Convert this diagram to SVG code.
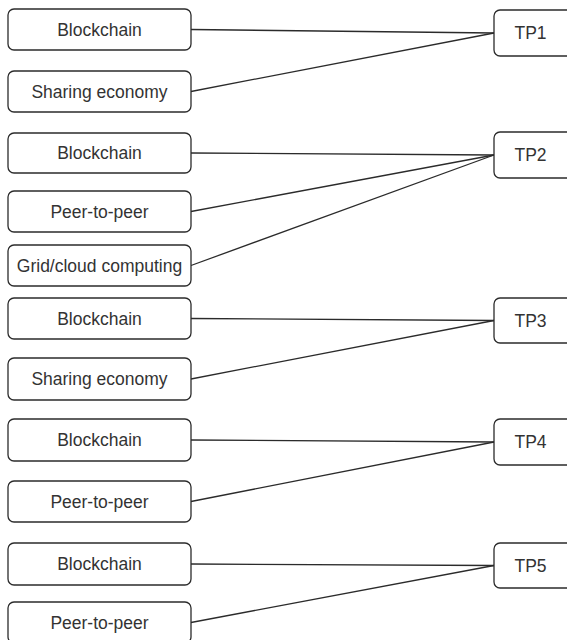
<svg xmlns="http://www.w3.org/2000/svg" width="567" height="640" viewBox="0 0 567 640">
  <style>
    .box { fill: #ffffff; stroke: #2b2b2b; stroke-width: 1.3; }
    .lbl { font-family: "Liberation Sans", Arial, sans-serif; font-size: 17.5px; fill: #333333; text-anchor: middle; }
    .edge { stroke: #2b2b2b; stroke-width: 1.3; fill: none; }
  </style>
  <rect width="567" height="640" fill="#ffffff"/>

  <!-- connectors: source right edge to topic left edge -->
  <g id="connectors">
    <line class="edge" x1="191" y1="29.5" x2="494" y2="33"/>
    <line class="edge" x1="191" y1="91.5" x2="494" y2="33"/>
    <line class="edge" x1="191" y1="153" x2="494" y2="155"/>
    <line class="edge" x1="191" y1="211.5" x2="494" y2="155"/>
    <line class="edge" x1="191" y1="265.5" x2="494" y2="155"/>
    <line class="edge" x1="191" y1="318.5" x2="494" y2="320.5"/>
    <line class="edge" x1="191" y1="379" x2="494" y2="320.5"/>
    <line class="edge" x1="191" y1="440" x2="494" y2="442"/>
    <line class="edge" x1="191" y1="501.5" x2="494" y2="442"/>
    <line class="edge" x1="191" y1="564" x2="494" y2="565.5"/>
    <line class="edge" x1="191" y1="622.5" x2="494" y2="565.5"/>
  </g>

  <!-- group 1 -->
  <g id="g1-blockchain"><rect class="box" x="8" y="9" width="183" height="41" rx="6"/><text class="lbl" x="99.5" y="35.8">Blockchain</text></g>
  <g id="g1-sharing"><rect class="box" x="8" y="71" width="183" height="41" rx="6"/><text class="lbl" x="99.5" y="97.8">Sharing economy</text></g>
  <g id="tp1"><rect class="box" x="494" y="10" width="82" height="46" rx="6"/><text class="lbl" x="530.5" y="39.3">TP1</text></g>

  <!-- group 2 -->
  <g id="g2-blockchain"><rect class="box" x="8" y="133" width="183" height="40" rx="6"/><text class="lbl" x="99.5" y="159.3">Blockchain</text></g>
  <g id="g2-p2p"><rect class="box" x="8" y="191" width="183" height="41" rx="6"/><text class="lbl" x="99.5" y="217.8">Peer-to-peer</text></g>
  <g id="g2-grid"><rect class="box" x="8" y="245" width="183" height="41" rx="6"/><text class="lbl" x="99.5" y="271.8">Grid/cloud computing</text></g>
  <g id="tp2"><rect class="box" x="494" y="132" width="82" height="46" rx="6"/><text class="lbl" x="530.5" y="161.3">TP2</text></g>

  <!-- group 3 -->
  <g id="g3-blockchain"><rect class="box" x="8" y="298" width="183" height="41" rx="6"/><text class="lbl" x="99.5" y="324.8">Blockchain</text></g>
  <g id="g3-sharing"><rect class="box" x="8" y="358" width="183" height="42" rx="6"/><text class="lbl" x="99.5" y="385.3">Sharing economy</text></g>
  <g id="tp3"><rect class="box" x="494" y="298" width="82" height="45" rx="6"/><text class="lbl" x="530.5" y="326.8">TP3</text></g>

  <!-- group 4 -->
  <g id="g4-blockchain"><rect class="box" x="8" y="419" width="183" height="42" rx="6"/><text class="lbl" x="99.5" y="446.3">Blockchain</text></g>
  <g id="g4-p2p"><rect class="box" x="8" y="481" width="183" height="41" rx="6"/><text class="lbl" x="99.5" y="507.8">Peer-to-peer</text></g>
  <g id="tp4"><rect class="box" x="494" y="419" width="82" height="46" rx="6"/><text class="lbl" x="530.5" y="448.3">TP4</text></g>

  <!-- group 5 -->
  <g id="g5-blockchain"><rect class="box" x="8" y="543" width="183" height="42" rx="6"/><text class="lbl" x="99.5" y="570.3">Blockchain</text></g>
  <g id="g5-p2p"><rect class="box" x="8" y="602" width="183" height="41" rx="6"/><text class="lbl" x="99.5" y="628.8">Peer-to-peer</text></g>
  <g id="tp5"><rect class="box" x="494" y="543" width="82" height="45" rx="6"/><text class="lbl" x="530.5" y="571.8">TP5</text></g>
</svg>
